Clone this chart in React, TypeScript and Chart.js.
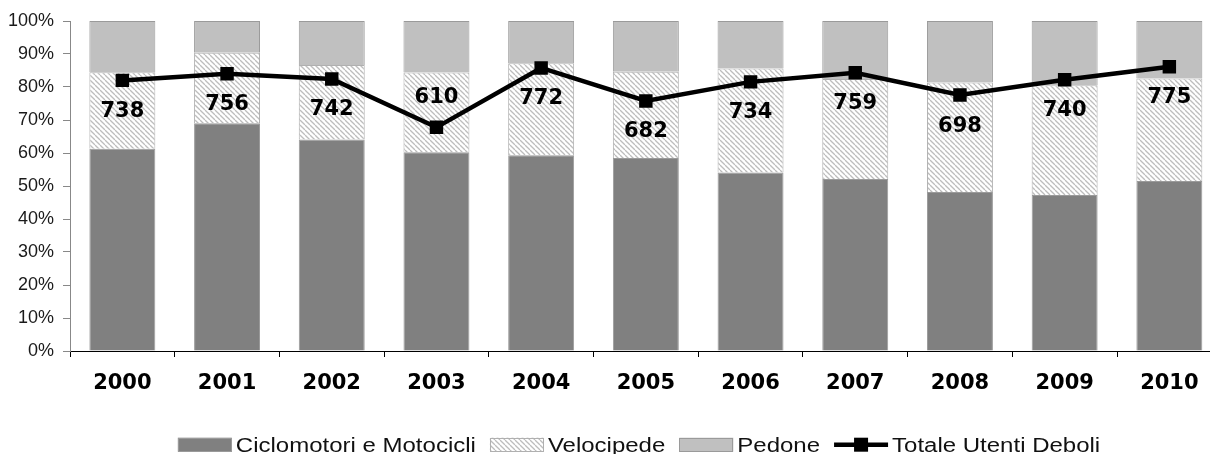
import React, { useEffect, useRef } from 'react';
import { Chart, registerables } from 'chart.js';

Chart.register(...registerables);

const YEARS = ['2000', '2001', '2002', '2003', '2004', '2005', '2006', '2007', '2008', '2009', '2010'];
const CICLOMOTORI = [61.3, 69.0, 64.1, 60.2, 59.3, 58.5, 54.1, 52.1, 48.2, 47.3, 51.5];
const VELOCIPEDE = [23.2, 21.4, 22.6, 24.2, 27.9, 26.1, 31.5, 30.3, 33.2, 33.2, 31.1];
const PEDONE = [15.5, 9.6, 13.3, 15.6, 12.8, 15.4, 14.4, 17.6, 18.6, 19.5, 17.4];
const TOTALE = [738, 756, 742, 610, 772, 682, 734, 759, 698, 740, 775];
const LABEL_SIDE = ['below', 'below', 'below', 'above', 'below', 'below', 'below', 'below', 'below', 'below', 'below'];
const SERIES_NAMES = ['Ciclomotori e Motocicli', 'Velocipede', 'Pedone', 'Totale Utenti Deboli'];

function makeHatch(): CanvasPattern | string {
  const s = 5;
  const c = document.createElement('canvas');
  c.width = s;
  c.height = s;
  const g = c.getContext('2d');
  if (!g) return '#eeeeee';
  g.fillStyle = '#ffffff';
  g.fillRect(0, 0, s, s);
  g.strokeStyle = '#bdbdbd';
  g.lineWidth = 1.3;
  for (const o of [-s, 0, s]) {
    g.beginPath();
    g.moveTo(o, 0);
    g.lineTo(o + s, s);
    g.stroke();
  }
  const p = g.createPattern(c, 'repeat');
  return p || '#eeeeee';
}

const valueLabels = {
  id: 'valueLabels',
  afterDatasetsDraw(chart: any) {
    const idx = chart.data.datasets.findIndex((d: any) => d.type === 'line');
    const meta = chart.getDatasetMeta(idx);
    const ctx = chart.ctx;
    ctx.save();
    ctx.font = "bold 21px 'DejaVu Sans'";
    ctx.fillStyle = '#000';
    ctx.textAlign = 'center';
    ctx.textBaseline = 'middle';
    meta.data.forEach((pt: any, i: number) => {
      const off = LABEL_SIDE[i] === 'above' ? -30 : 31;
      ctx.fillText(String(TOTALE[i]), pt.x, pt.y + off);
    });
    ctx.restore();
  },
};

const customLegend = {
  id: 'customLegend',
  afterDraw(chart: any) {
    const ctx = chart.ctx;
    const sx = 1.2;
    const boxW = 54;
    const boxH = 14;
    const gap = 4;
    const itemGap = 14;
    const cy = 444.7;
    ctx.save();
    ctx.font = "20px 'Liberation Sans'";
    const dsets = chart.data.datasets;
    const widths = dsets.map((ds: any) => ctx.measureText(ds.label).width * sx);
    const total = widths.reduce((a: number, w: number) => a + boxW + gap + w, 0) + itemGap * (dsets.length - 1);
    let x = 639 - total / 2;
    dsets.forEach((ds: any, i: number) => {
      if (ds.type === 'line') {
        ctx.strokeStyle = '#000';
        ctx.lineWidth = 4.5;
        ctx.beginPath();
        ctx.moveTo(x, cy);
        ctx.lineTo(x + boxW, cy);
        ctx.stroke();
        ctx.fillStyle = '#000';
        ctx.fillRect(x + boxW / 2 - 7, cy - 7, 14, 14);
      } else {
        ctx.fillStyle = ds.backgroundColor;
        ctx.fillRect(x, cy - boxH / 2, boxW, boxH);
        ctx.strokeStyle = ds.borderColor;
        ctx.lineWidth = 1;
        ctx.strokeRect(Math.round(x) + 0.5, Math.round(cy - boxH / 2) + 0.5, boxW - 1, boxH - 1);
      }
      const tx = x + boxW + gap;
      ctx.save();
      ctx.translate(tx, cy + 7);
      ctx.scale(sx, 1);
      ctx.fillStyle = '#111';
      ctx.textAlign = 'left';
      ctx.textBaseline = 'alphabetic';
      ctx.fillText(ds.label, 0, 0);
      ctx.restore();
      x = tx + widths[i] + itemGap;
    });
    ctx.restore();
  },
};

export default function App() {
  const ref = useRef<HTMLCanvasElement | null>(null);

  useEffect(() => {
    const canvas = ref.current;
    if (!canvas) return;
    const hatch = makeHatch();
    const chart = new Chart(canvas, {
      type: 'bar',
      data: {
        labels: YEARS,
        datasets: [
          {
            label: SERIES_NAMES[0],
            data: CICLOMOTORI,
            backgroundColor: '#808080',
            borderColor: '#9a9a9a',
            borderWidth: 1,
            stack: 's',
            order: 1,
          },
          {
            label: SERIES_NAMES[1],
            data: VELOCIPEDE,
            backgroundColor: hatch as any,
            borderColor: '#b0b0b0',
            borderWidth: 1,
            stack: 's',
            order: 1,
          },
          {
            label: SERIES_NAMES[2],
            data: PEDONE,
            backgroundColor: '#c0c0c0',
            borderColor: '#9a9a9a',
            borderWidth: 1,
            stack: 's',
            order: 1,
          },
          {
            type: 'line',
            label: SERIES_NAMES[3],
            data: TOTALE,
            yAxisID: 'y2',
            borderColor: '#000',
            backgroundColor: '#000',
            borderWidth: 4.5,
            pointStyle: 'rect',
            pointRadius: 9.5,
            pointHoverRadius: 9.5,
            pointBackgroundColor: '#000',
            pointBorderColor: '#000',
            pointBorderWidth: 0,
            tension: 0,
            order: 0,
          } as any,
        ],
      },
      options: {
        animation: false,
        responsive: false,
        devicePixelRatio: 1,
        events: [],
        layout: { padding: { left: 0, top: 21, right: 18.3, bottom: 53 } },
        datasets: { bar: { barPercentage: 0.63, categoryPercentage: 1 } },
        scales: {
          x: {
            stacked: true,
            offset: true,
            grid: { display: true, offset: true, drawOnChartArea: false, drawTicks: true, tickLength: 6, color: '#000' },
            border: { display: true, color: '#000', width: 1 },
            ticks: { font: { family: "'DejaVu Sans'", size: 21, weight: 'bold' }, color: '#000', padding: 14, maxRotation: 0 },
            afterFit: (s: any) => { s.height = 50; },
          },
          y: {
            stacked: true,
            min: 0,
            max: 100,
            grid: { display: true, drawOnChartArea: false, drawTicks: true, tickLength: 7, color: '#888' },
            border: { display: true, color: '#888', width: 1 },
            ticks: {
              stepSize: 10,
              callback: (v: any) => v + '%',
              font: { family: "'Liberation Sans'", size: 18 },
              color: '#1a1a1a',
              padding: 9,
            },
            afterFit: (s: any) => { s.width = 70; },
          },
          y2: {
            type: 'linear',
            display: false,
            min: 0,
            max: 900,
            stacked: false,
          },
        },
        plugins: {
          legend: { display: false },
          tooltip: { enabled: false },
          title: { display: false },
        },
      } as any,
      plugins: [valueLabels, customLegend],
    });
    return () => chart.destroy();
  }, []);

  return (
    <div style={{ position: 'fixed', left: 0, top: 0, width: 1210, height: 454, overflow: 'hidden', background: '#fff' }}>
      <canvas ref={ref} width={1240} height={454} style={{ display: 'block', width: 1240, height: 454 }} />
    </div>
  );
}
